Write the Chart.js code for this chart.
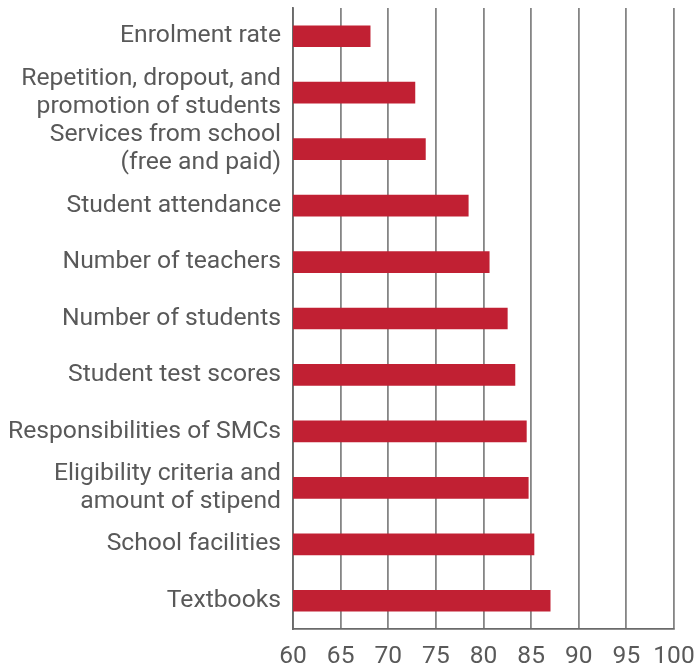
<!DOCTYPE html>
<html>
<head>
<meta charset="utf-8">
<script src="https://cdn.jsdelivr.net/npm/chart.js@4"></script>
<style>
  html, body { margin: 0; padding: 0; background: #ffffff; }
  #wrap { width: 696px; height: 665px; }
</style>
</head>
<body>
<div id="wrap"><canvas id="chart"></canvas></div>
<script>
// Topics, top to bottom; multi-line labels are arrays of lines
const categories = [
  "Enrolment rate",
  ["Repetition, dropout, and", "promotion of students"],
  ["Services from school", "(free and paid)"],
  "Student attendance",
  "Number of teachers",
  "Number of students",
  "Student test scores",
  "Responsibilities of SMCs",
  ["Eligibility criteria and", "amount of stipend"],
  "School facilities",
  "Textbooks"
];

// Percentage for each topic
const values = [68.1, 72.8, 73.9, 78.4, 80.6, 82.5, 83.3, 84.5, 84.7, 85.3, 87.0];

// Value axis range and step
const axisMin = 60;
const axisMax = 100;
const axisStep = 5;

const FONT = "Roboto, 'Liberation Sans', sans-serif";
const TEXT = "#595959";

new Chart(document.getElementById("chart"), {
  type: "bar",
  data: {
    labels: categories,
    datasets: [{
      data: values,
      backgroundColor: "#c12033",
      borderWidth: 0,
      barThickness: 21
    }]
  },
  options: {
    indexAxis: "y",
    responsive: true,
    maintainAspectRatio: false,
    animation: false,
    layout: { padding: { top: 8, right: 22, left: 0, bottom: 0 } },
    plugins: {
      legend: { display: false },
      tooltip: { enabled: false }
    },
    scales: {
      x: {
        min: axisMin,
        max: axisMax,
        ticks: {
          stepSize: axisStep,
          color: TEXT,
          padding: 13,
          font: { family: FONT, size: 24.5 }
        },
        grid: {
          color: "#858585",
          lineWidth: 1.8,
          drawTicks: false
        },
        border: { display: true, color: "#6a6a6a", width: 1.8 },
        afterFit: (scale) => {
          scale.height = 36;
          scale.paddingLeft = 0;
          scale.paddingRight = 0;
        }
      },
      y: {
        ticks: {
          autoSkip: false,
          color: TEXT,
          padding: 12,
          font: { family: FONT, size: 24.7, lineHeight: 1.14 }
        },
        grid: { display: false, drawTicks: false },
        border: { display: true, color: "#6a6a6a", width: 1.8 },
        afterFit: (scale) => {
          scale.width = 293;
          scale.paddingTop = 0;
          scale.paddingBottom = 0;
        }
      }
    }
  }
});
</script>
</body>
</html>
